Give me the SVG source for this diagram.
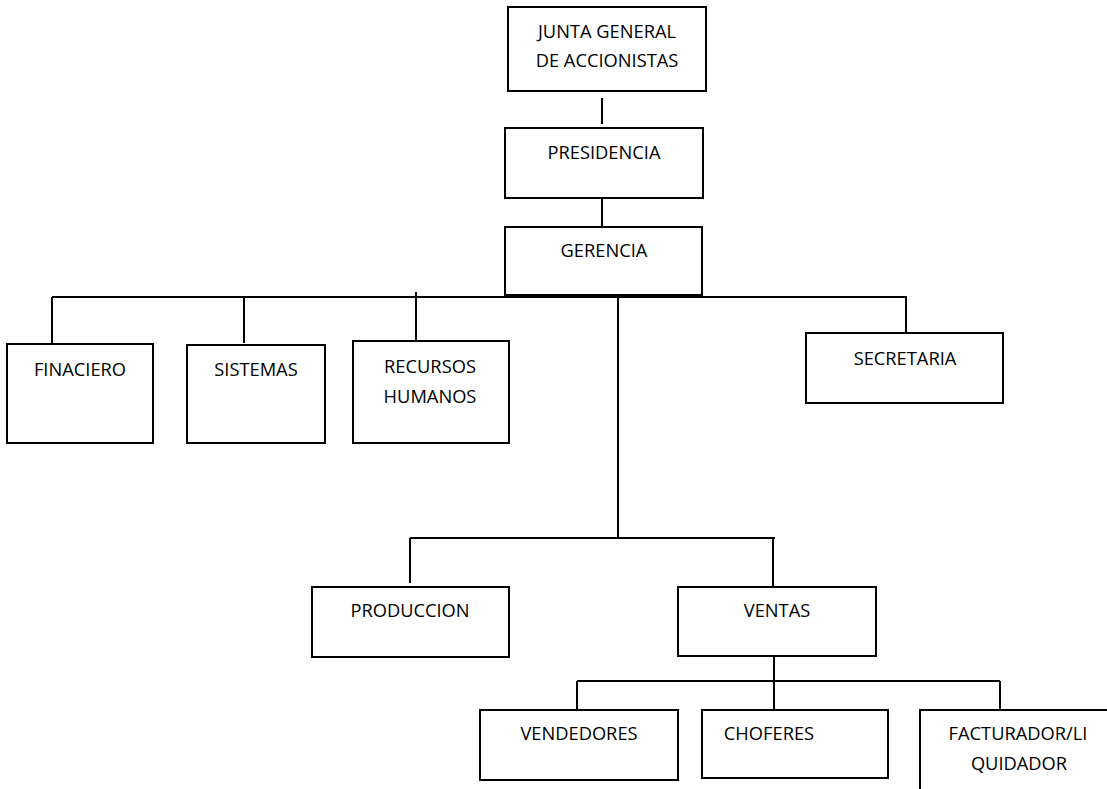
<svg xmlns="http://www.w3.org/2000/svg" width="1107" height="789" viewBox="0 0 1107 789">
<style>
.box{fill:#fff;stroke:#000;stroke-width:2}
.ln{stroke:#000;stroke-width:2;fill:none}
text{font-family:"Open Sans","Liberation Sans",sans-serif;font-size:18.3px;fill:#000;text-anchor:middle}
</style>
<rect width="1107" height="789" fill="#fff"/>
<g id="connectors">
<line class="ln" x1="602" y1="98" x2="602" y2="124"/>
<line class="ln" x1="602" y1="198" x2="602" y2="228"/>
<line class="ln" x1="52" y1="297" x2="907" y2="297"/>
<line class="ln" x1="52" y1="297" x2="52" y2="344"/>
<line class="ln" x1="244" y1="296" x2="244" y2="343"/>
<line class="ln" x1="416" y1="292" x2="416" y2="341"/>
<line class="ln" x1="906" y1="297" x2="906" y2="333"/>
<line class="ln" x1="618" y1="293" x2="618" y2="538"/>
<line class="ln" x1="410" y1="538" x2="775" y2="538"/>
<line class="ln" x1="410" y1="538" x2="410" y2="583"/>
<line class="ln" x1="773" y1="538" x2="773" y2="587"/>
<line class="ln" x1="774" y1="654" x2="774" y2="709"/>
<line class="ln" x1="577" y1="681" x2="1000" y2="681"/>
<line class="ln" x1="577" y1="681" x2="577" y2="709"/>
<line class="ln" x1="1000" y1="681" x2="1000" y2="710"/>
</g>
<g id="junta"><rect class="box" x="508" y="7" width="198" height="84"/><text x="607" y="38">JUNTA GENERAL</text><text x="607" y="67">DE ACCIONISTAS</text></g>
<g id="presidencia"><rect class="box" x="505" y="128" width="198" height="70"/><text x="604" y="159">PRESIDENCIA</text></g>
<g id="gerencia"><rect class="box" x="505" y="227" width="197" height="68"/><text x="604" y="257">GERENCIA</text></g>
<g id="finaciero"><rect class="box" x="7" y="344" width="146" height="99"/><text x="80" y="376">FINACIERO</text></g>
<g id="sistemas"><rect class="box" x="187" y="345" width="138" height="98"/><text x="256" y="376">SISTEMAS</text></g>
<g id="recursos"><rect class="box" x="353" y="341" width="156" height="102"/><text x="430" y="373">RECURSOS</text><text x="430" y="403">HUMANOS</text></g>
<g id="secretaria"><rect class="box" x="806" y="333" width="197" height="70"/><text x="905" y="365">SECRETARIA</text></g>
<g id="produccion"><rect class="box" x="312" y="587" width="197" height="70"/><text x="410" y="617">PRODUCCION</text></g>
<g id="ventas"><rect class="box" x="678" y="587" width="198" height="69"/><text x="777" y="617">VENTAS</text></g>
<g id="vendedores"><rect class="box" x="480" y="710" width="198" height="70"/><text x="579" y="740">VENDEDORES</text></g>
<g id="choferes"><rect class="box" x="702" y="710" width="186" height="68"/><text x="769" y="740">CHOFERES</text></g>
<g id="facturador"><rect class="box" x="920" y="710" width="200" height="95"/><text x="1018" y="740">FACTURADOR/LI</text><text x="1019" y="770">QUIDADOR</text></g>
</svg>
